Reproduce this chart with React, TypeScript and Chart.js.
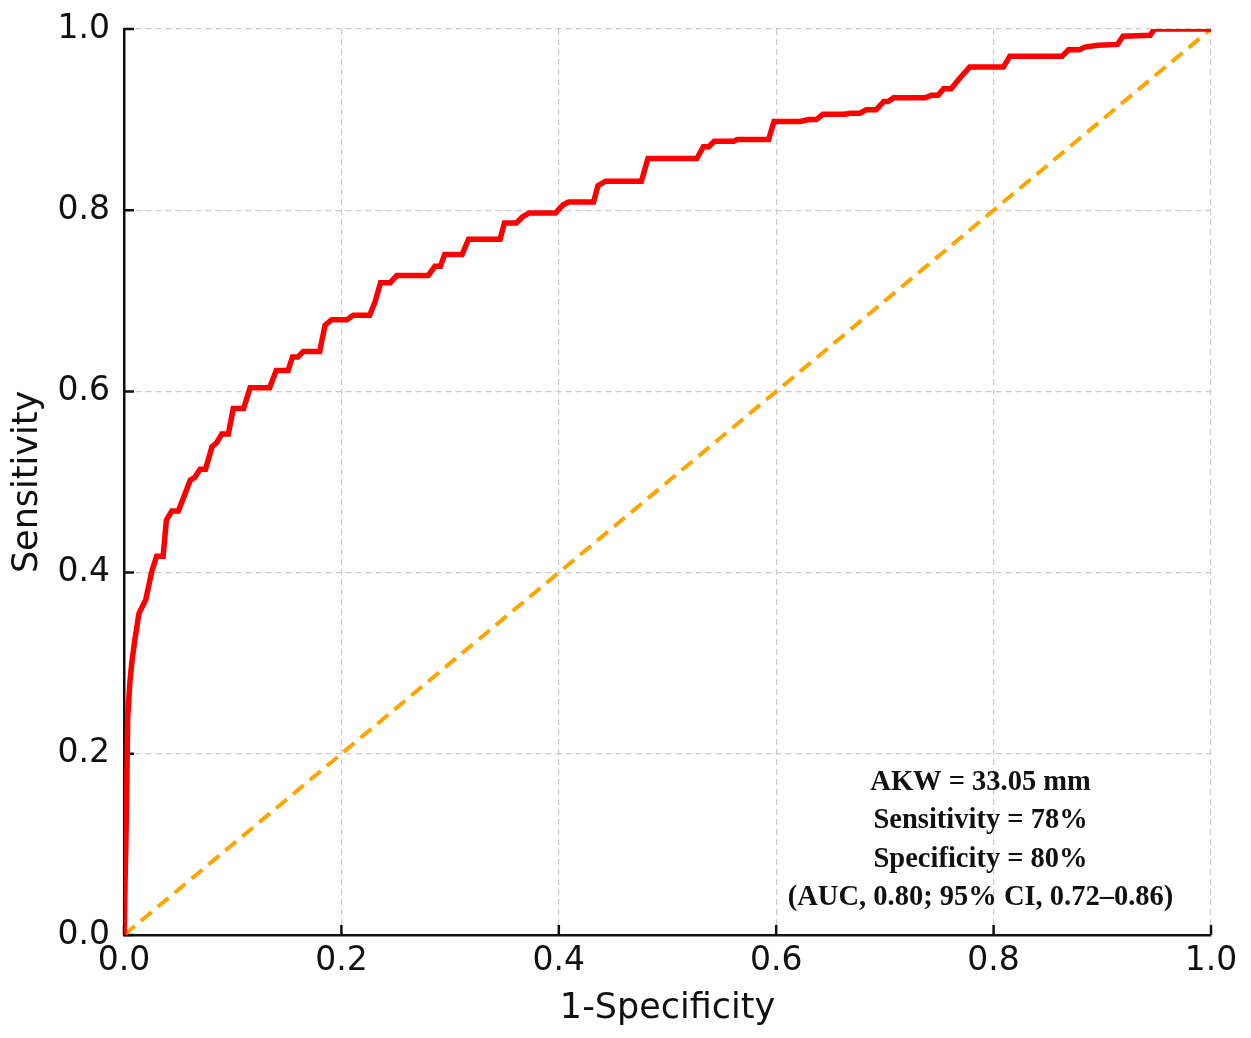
import React, { useEffect, useRef } from "react";
import { Chart, registerables } from "chart.js";

Chart.register(...registerables);

// ROC curve (1-Specificity, Sensitivity)
const fprValues: number[] = [
  0, 0.002, 0.0034, 0.0055, 0.0071, 0.01, 0.0138, 0.02, 0.0255, 0.03, 0.036, 0.039,
  0.044, 0.05, 0.061, 0.065, 0.07, 0.075, 0.081, 0.085, 0.09, 0.096, 0.1005, 0.11,
  0.116, 0.134, 0.14, 0.151, 0.155, 0.16, 0.165, 0.18, 0.185, 0.191, 0.205, 0.211,
  0.226, 0.231, 0.236, 0.245, 0.251, 0.28, 0.286, 0.291, 0.295, 0.311, 0.317, 0.346,
  0.35, 0.361, 0.367, 0.373, 0.397, 0.404, 0.409, 0.432, 0.436, 0.443, 0.476, 0.482,
  0.527, 0.533, 0.538, 0.543, 0.561, 0.564, 0.593, 0.598, 0.622, 0.63, 0.637, 0.643,
  0.663, 0.668, 0.677, 0.683, 0.692, 0.699, 0.703, 0.708, 0.737, 0.743, 0.749, 0.754,
  0.761, 0.769, 0.778, 0.809, 0.815, 0.863, 0.869, 0.879, 0.884, 0.896, 0.914, 0.919,
  0.944, 0.948, 1.0,
];
const tprValues: number[] = [
  0, 0.12, 0.24, 0.28, 0.3, 0.326, 0.355, 0.37, 0.401, 0.418, 0.418, 0.458,
  0.468, 0.468, 0.502, 0.505, 0.514, 0.514, 0.539, 0.543, 0.553, 0.553, 0.581, 0.581,
  0.604, 0.604, 0.623, 0.623, 0.638, 0.638, 0.644, 0.644, 0.673, 0.679, 0.679, 0.684,
  0.684, 0.699, 0.72, 0.72, 0.728, 0.728, 0.738, 0.738, 0.751, 0.751, 0.768, 0.768,
  0.786, 0.786, 0.793, 0.797, 0.797, 0.806, 0.809, 0.809, 0.827, 0.832, 0.832, 0.857,
  0.857, 0.87, 0.87, 0.876, 0.876, 0.878, 0.878, 0.898, 0.898, 0.9, 0.9, 0.906,
  0.906, 0.907, 0.907, 0.911, 0.911, 0.92, 0.92, 0.924, 0.924, 0.927, 0.927, 0.934,
  0.934, 0.946, 0.958, 0.958, 0.97, 0.97, 0.977, 0.977, 0.98, 0.982, 0.983, 0.992,
  0.993, 1.0, 1.0,
];

// Reference (chance) line
const diagX: number[] = [0, 1];
const diagY: number[] = [0, 1];

const tickValues: number[] = [0, 0.2, 0.4, 0.6, 0.8, 1.0];

const annotationLines: string[] = [
  "AKW = 33.05 mm",
  "Sensitivity = 78%",
  "Specificity = 80%",
  "(AUC, 0.80; 95% CI, 0.72\u20130.86)",
];
// annotation anchor in data units (centre x, baselines y)
const annotationX = 0.788;
const annotationBaselines: number[] = [0.16, 0.118, 0.075, 0.033];

const annotationPlugin = {
  id: "rocAnnotation",
  beforeDatasetsDraw(chart: any) {
    // inward tick marks on the left and bottom axes
    const { ctx, scales, chartArea } = chart;
    ctx.save();
    ctx.strokeStyle = "#111";
    ctx.lineWidth = 2.5;
    ctx.beginPath();
    scales.x.ticks.forEach((t: any) => {
      const px = scales.x.getPixelForValue(t.value);
      ctx.moveTo(px, chartArea.bottom);
      ctx.lineTo(px, chartArea.bottom - 10);
    });
    scales.y.ticks.forEach((t: any) => {
      const py = scales.y.getPixelForValue(t.value);
      ctx.moveTo(chartArea.left, py);
      ctx.lineTo(chartArea.left + 10, py);
    });
    ctx.stroke();
    ctx.restore();
  },
  afterDraw(chart: any) {
    const { ctx, scales } = chart;
    const x = scales.x.getPixelForValue(annotationX);
    ctx.save();
    ctx.fillStyle = "#111";
    ctx.font = "bold 28.5px 'Liberation Serif', serif";
    ctx.textAlign = "center";
    ctx.textBaseline = "alphabetic";
    annotationLines.forEach((line, i) => {
      ctx.fillText(line, x, scales.y.getPixelForValue(annotationBaselines[i]));
    });
    ctx.restore();
  },
};

export default function App() {
  const canvasRef = useRef<HTMLCanvasElement | null>(null);

  useEffect(() => {
    if (!canvasRef.current) return;
    const rocData = fprValues.map((x, i) => ({ x, y: tprValues[i] }));
    const diagData = diagX.map((x, i) => ({ x, y: diagY[i] }));

    const tickFont = { family: "'DejaVu Sans', sans-serif", size: 33 };
    const titleFont = { family: "'DejaVu Sans', sans-serif", size: 35 };
    const gridOpts = {
      color: "#cccccc",
      lineWidth: 1.2,
      drawTicks: false,
    };
    const borderOpts = { color: "#111", width: 2.5, dash: [6, 4] };
    const clearPadding = (scale: any) => {
      scale.paddingTop = 0;
      scale.paddingBottom = 0;
      scale.paddingLeft = 0;
      scale.paddingRight = 0;
    };

    const chart = new Chart(canvasRef.current, {
      type: "scatter",
      data: {
        datasets: [
          {
            data: diagData,
            showLine: true,
            borderColor: "#FFA500",
            borderWidth: 4,
            borderDash: [14, 8],
            pointRadius: 0,
            fill: false,
            order: 2,
          },
          {
            data: rocData,
            showLine: true,
            borderColor: "#FF0000",
            borderWidth: 5.5,
            pointRadius: 0,
            fill: false,
            tension: 0,
            order: 1,
          },
        ],
      },
      options: {
        animation: false,
        responsive: true,
        maintainAspectRatio: false,
        layout: { padding: { left: 0, right: 40, top: 29, bottom: 0 } },
        plugins: {
          legend: { display: false },
          tooltip: { enabled: false },
        },
        scales: {
          x: {
            type: "linear",
            min: 0,
            max: 1,
            afterFit: (scale: any) => {
              scale.height = 103;
              clearPadding(scale);
            },
            afterBuildTicks: (scale: any) => {
              scale.ticks = tickValues.map((v) => ({ value: v }));
            },
            ticks: {
              font: tickFont,
              color: "#111",
              padding: 7,
              maxRotation: 0,
              autoSkip: false,
              callback: (v: any) => Number(v).toFixed(1),
            },
            grid: gridOpts,
            border: borderOpts,
            title: {
              display: true,
              text: "1-Specificity",
              font: titleFont,
              color: "#111",
              padding: { top: 0, bottom: 8 },
            },
          },
          y: {
            type: "linear",
            min: 0,
            max: 1,
            afterFit: (scale: any) => {
              scale.width = 124;
              clearPadding(scale);
            },
            afterBuildTicks: (scale: any) => {
              scale.ticks = tickValues.map((v) => ({ value: v }));
            },
            ticks: {
              font: tickFont,
              color: "#111",
              padding: 14,
              autoSkip: false,
              callback: (v: any) => Number(v).toFixed(1),
            },
            grid: gridOpts,
            border: borderOpts,
            title: {
              display: true,
              text: "Sensitivity",
              font: titleFont,
              color: "#111",
              padding: { top: 7, bottom: 0 },
            },
          },
        },
      },
      plugins: [annotationPlugin],
    });

    return () => chart.destroy();
  }, []);

  return (
    <div
      style={{
        position: "absolute",
        left: 0,
        top: 0,
        width: "1251px",
        height: "1038px",
        background: "#fff",
      }}
    >
      <canvas ref={canvasRef} />
    </div>
  );
}
